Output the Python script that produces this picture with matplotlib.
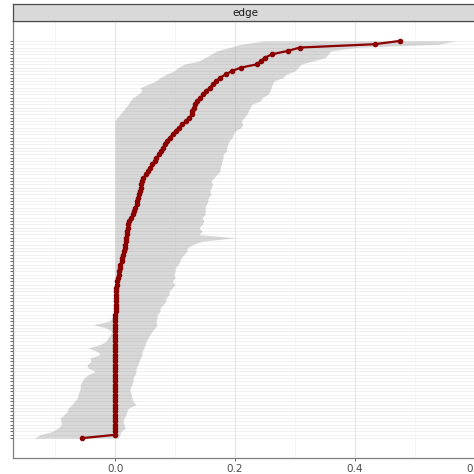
import numpy as np
import matplotlib.pyplot as plt
from matplotlib.patches import Rectangle

# rank of each item, bottom (1) to top (120)
rank = list(range(1, 121))

# point estimate per rank
estimate = [
    -0.055, 0.0, 0.0, 0.0, 0.0, 0.0, 0.0, 0.0, 0.0, 0.0,
    0.0, 0.0, 0.0, 0.0, 0.0, 0.0, 0.0, 0.0, 0.0, 0.0,
    0.0, 0.0, 0.0, 0.0, 0.0, 0.0, 0.0, 0.0, 0.0, 0.0,
    0.0, 0.0, 0.0, 0.0, 0.0, 0.0, 0.0, 0.0, 0.001, 0.001,
    0.001, 0.001, 0.001, 0.001, 0.002, 0.002, 0.003, 0.004, 0.005, 0.006,
    0.007, 0.008, 0.009, 0.011, 0.012, 0.013, 0.015, 0.016, 0.017, 0.018,
    0.019, 0.020, 0.020, 0.021, 0.022, 0.024, 0.027, 0.030, 0.032, 0.034,
    0.036, 0.037, 0.038, 0.040, 0.041, 0.043, 0.044, 0.045, 0.047, 0.052,
    0.055, 0.058, 0.062, 0.066, 0.069, 0.074, 0.077, 0.080, 0.083, 0.086,
    0.091, 0.096, 0.101, 0.106, 0.112, 0.118, 0.124, 0.128, 0.129, 0.131,
    0.133, 0.137, 0.142, 0.147, 0.152, 0.158, 0.163, 0.169, 0.175, 0.185,
    0.195, 0.210, 0.237, 0.243, 0.250, 0.262, 0.288, 0.308, 0.433, 0.475,
]

# interval bounds per rank
lower = [
    -0.135, -0.125, -0.105, -0.095, -0.090, -0.090, -0.092, -0.085, -0.080, -0.078,
    -0.072, -0.068, -0.063, -0.062, -0.060, -0.058, -0.058, -0.055, -0.052, -0.045,
    -0.033, -0.045, -0.047, -0.040, -0.042, -0.025, -0.030, -0.045, -0.025, -0.015,
    -0.012, -0.008, -0.006, -0.015, -0.037, -0.010, -0.005, -0.003, -0.002, 0.0,
    0.0, 0.0, 0.0, 0.0, 0.0, 0.0, 0.0, 0.0, 0.0, 0.0,
    0.0, 0.0, 0.0, 0.0, 0.0, 0.0, 0.0, 0.0, 0.0, 0.0,
    0.0, 0.0, 0.0, 0.0, 0.0, 0.0, 0.0, 0.0, 0.0, 0.0,
    0.0, 0.0, 0.0, 0.0, 0.0, 0.0, 0.0, 0.0, 0.0, 0.0,
    0.0, 0.0, 0.0, 0.0, 0.0, 0.0, 0.0, 0.0, 0.0, 0.0,
    0.0, 0.0, 0.0, 0.0, 0.0, 0.0, 0.003, 0.008, 0.013, 0.017,
    0.022, 0.025, 0.030, 0.038, 0.045, 0.042, 0.055, 0.068, 0.075, 0.085,
    0.098, 0.105, 0.115, 0.140, 0.150, 0.160, 0.170, 0.190, 0.210, 0.250,
]

upper = [
    0.005, 0.008, 0.010, 0.017, 0.015, 0.013, 0.015, 0.018, 0.020, 0.022,
    0.035, 0.030, 0.028, 0.027, 0.025, 0.025, 0.028, 0.030, 0.030, 0.033,
    0.035, 0.035, 0.038, 0.040, 0.042, 0.045, 0.045, 0.048, 0.050, 0.052,
    0.055, 0.058, 0.062, 0.066, 0.070, 0.068, 0.070, 0.070, 0.075, 0.075,
    0.080, 0.085, 0.085, 0.090, 0.090, 0.095, 0.100, 0.095, 0.100, 0.098,
    0.100, 0.100, 0.105, 0.108, 0.110, 0.115, 0.120, 0.120, 0.130, 0.145,
    0.200, 0.140, 0.145, 0.140, 0.145, 0.148, 0.145, 0.150, 0.150, 0.150,
    0.152, 0.155, 0.155, 0.160, 0.158, 0.160, 0.163, 0.160, 0.165, 0.170,
    0.175, 0.175, 0.177, 0.178, 0.180, 0.180, 0.186, 0.186, 0.188, 0.190,
    0.195, 0.197, 0.200, 0.210, 0.213, 0.210, 0.215, 0.220, 0.222, 0.225,
    0.228, 0.242, 0.245, 0.255, 0.258, 0.260, 0.262, 0.265, 0.280, 0.285,
    0.300, 0.305, 0.310, 0.330, 0.350, 0.355, 0.360, 0.400, 0.540, 0.568,
]

facet_label = 'edge'
x_ticks = [0.0, 0.2, 0.4, 0.6]
x_minor = [-0.1, 0.1, 0.3, 0.5]

fig = plt.figure(figsize=(4.74, 4.74), dpi=100)
ax = fig.add_axes([13/474, 16/474, 464/474, 437/474])

# grid
for r in rank:
    ax.axhline(r, color='#ebebeb', lw=0.5, zorder=0)
for v in x_minor:
    ax.axvline(v, color='#f3f3f3', lw=0.5, zorder=0)
for v in x_ticks:
    ax.axvline(v, color='#e6e6e6', lw=0.8, zorder=0)

ax.fill_betweenx(rank, lower, upper, color='grey', alpha=0.3, lw=0, zorder=1)
ax.plot(estimate, rank, color='#8b0000', lw=1.6, marker='o', markersize=3,
        zorder=3)

xmin = min(lower)
xmax = max(upper)
pad = 0.05 * (xmax - xmin)
ax.set_xlim(xmin - pad, xmax + pad)
ypad = 0.05 * (rank[-1] - rank[0])
ax.set_ylim(rank[0] - ypad, rank[-1] + ypad)

ax.set_xticks(x_ticks)
ax.set_xticklabels(['0.0', '0.2', '0.4', '0.6'])
ax.set_yticks(rank)
ax.set_yticklabels([])
ax.tick_params(axis='x', length=2.5, width=0.6, color='#4d4d4d',
               labelsize=7.5, labelcolor='#4d4d4d', pad=2)
ax.tick_params(axis='y', length=2.5, width=0.6, color='#4d4d4d')
for s in ax.spines.values():
    s.set_color('#808080')
    s.set_linewidth(0.9)

# facet strip
sax = fig.add_axes([13/474, 453/474, 464/474, 17/474])
sax.set_xticks([])
sax.set_yticks([])
sax.set_facecolor('#d9d9d9')
for s in sax.spines.values():
    s.set_color('#4d4d4d')
    s.set_linewidth(0.9)
sax.text(0.5, 0.5, facet_label, ha='center', va='center', fontsize=7.5,
         color='#1a1a1a', transform=sax.transAxes)

fig.savefig('out.png', dpi=100)
